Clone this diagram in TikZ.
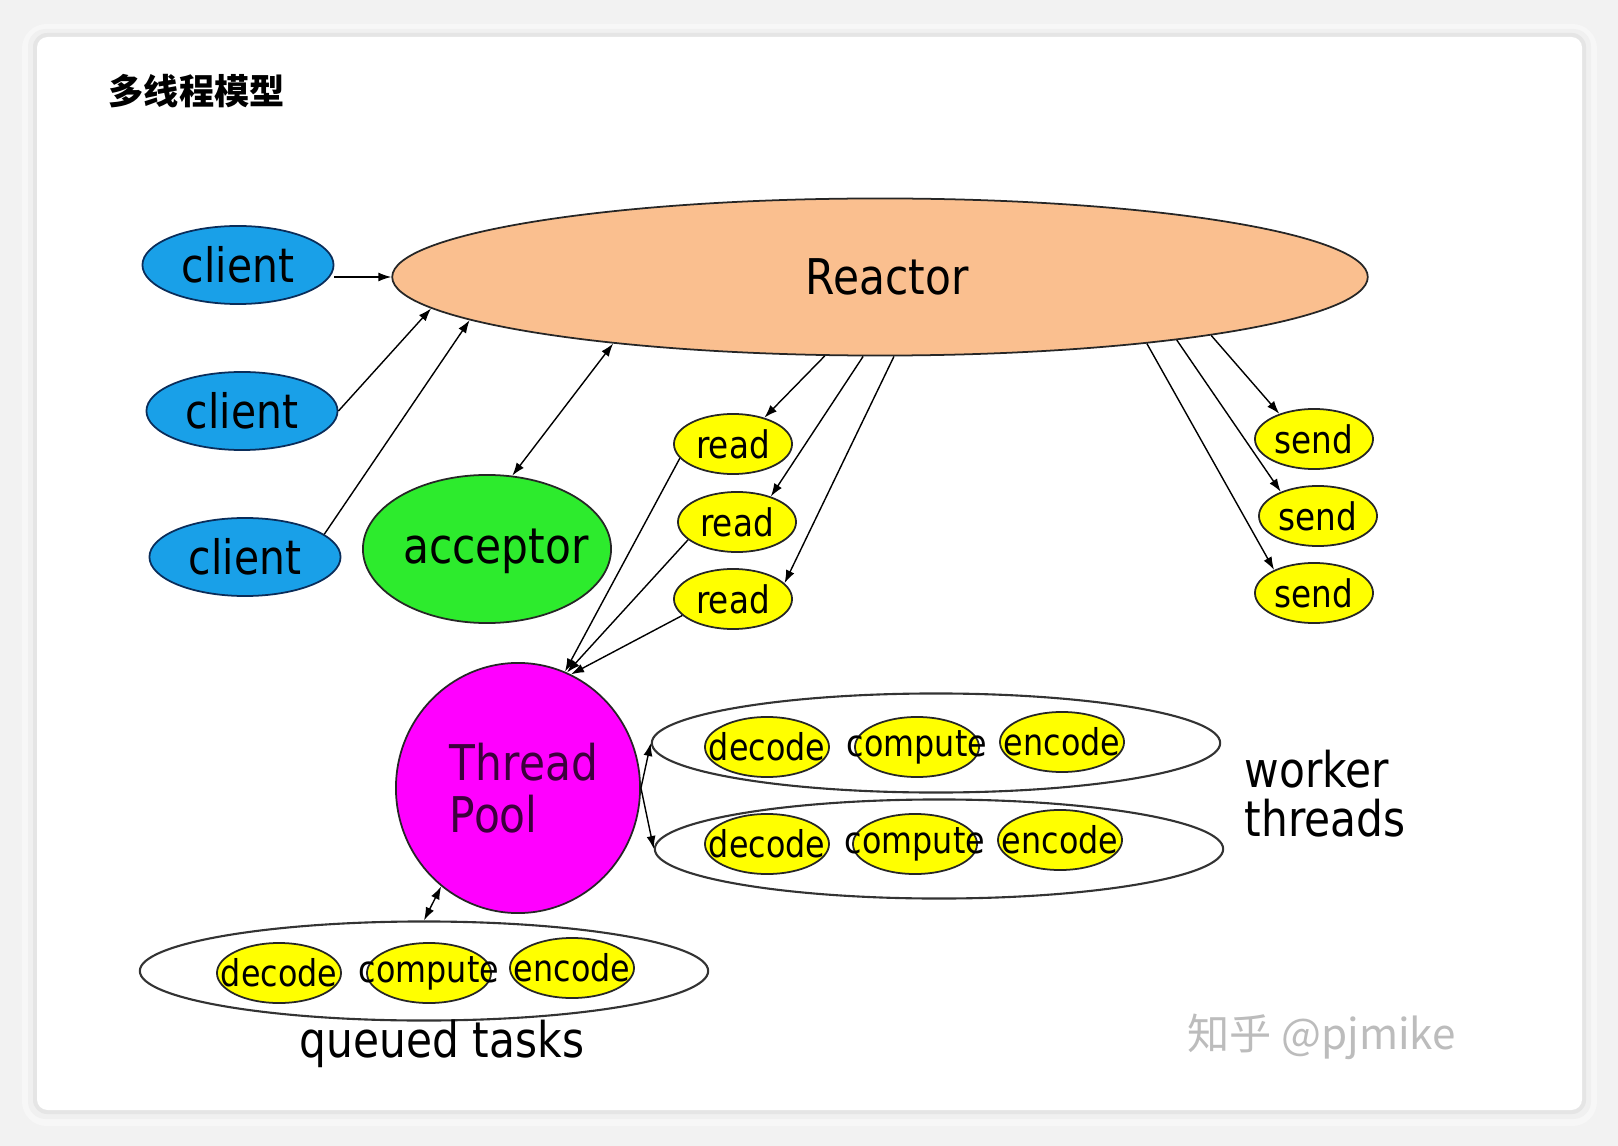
\documentclass[tikz,border=0pt]{standalone}
\usepackage{fontspec}
\usepackage{xcolor}
\usetikzlibrary{shapes.geometric,arrows.meta,calc}
\setmainfont{DejaVu Sans}[FakeStretch=0.86]
\newfontfamily\cjk{Noto Sans CJK SC}
\definecolor{reactorPeach}{RGB}{250,191,143}
\definecolor{clientBlue}{RGB}{25,160,232}
\definecolor{clientEdge}{RGB}{10,45,90}
\definecolor{acceptorGreen}{RGB}{45,235,45}
\definecolor{taskYellow}{RGB}{255,255,0}
\definecolor{poolMagenta}{RGB}{255,0,255}
\definecolor{poolText}{RGB}{60,0,60}
\definecolor{markGray}{RGB}{188,188,188}
\definecolor{pageGray}{RGB}{242,242,242}
\tikzset{
  blob/.style={ellipse,inner sep=0pt,line width=0.5pt,draw=black!85},
  clientnode/.style={blob,fill=clientBlue,draw=clientEdge,minimum width=1.91cm,minimum height=0.78cm,font=\fontsize{13.5}{15}\selectfont},
  iotask/.style={blob,fill=taskYellow,minimum width=1.18cm,minimum height=0.6cm,font=\fontsize{10.8}{12}\selectfont},
  worktask/.style={blob,fill=taskYellow,minimum width=1.24cm,minimum height=0.6cm,font=\fontsize{10.5}{12}\selectfont},
  threadbox/.style={ellipse,draw=black!80,line width=0.6pt,minimum width=5.68cm,minimum height=0.99cm},
  arr/.style={-{Latex[length=1.3mm,width=0.9mm]},line width=0.4pt},
  dbl/.style={{Latex[length=1.3mm,width=0.9mm]}-{Latex[length=1.3mm,width=0.9mm]},line width=0.4pt}
}
\begin{document}
\begin{tikzpicture}[x=0.01cm,y=-0.01cm]
\useasboundingbox (0,0) rectangle (1618,1146);
\fill[pageGray] (0,0) rectangle (1618,1146);
\fill[black!3,rounded corners=7pt] (22,24) rectangle (1597,1126);
\fill[black!6,rounded corners=5pt] (28,29) rectangle (1591,1119);
\fill[black!10,rounded corners=4pt] (33,33) rectangle (1586,1114);
\fill[white,rounded corners=3pt] (37,37) rectangle (1582,1110);
\node[font=\cjk\bfseries\fontsize{10}{12}\selectfont,anchor=west,inner sep=0pt] (title) at (108,91) {多线程模型};
\node[blob,fill=reactorPeach,minimum width=9.75cm,minimum height=1.57cm,font=\fontsize{14}{16}\selectfont] (reactor) at (880,277) {\makebox[0pt]{\kern0.14cm Reactor}};
\node[clientnode] (clientA) at (238,265) {client};
\node[clientnode] (clientB) at (242,411) {client};
\node[clientnode] (clientC) at (245,557) {client};
\node[blob,fill=acceptorGreen,minimum width=2.48cm,minimum height=1.48cm,font=\fontsize{14}{16}\selectfont] (acceptor) at (487,549) {\makebox[0pt]{\kern0.18cm\smash{\raisebox{-0.14cm}{acceptor}}}};
\node[iotask] (readA) at (733,444) {read};
\node[iotask] (readB) at (737,522) {read};
\node[iotask] (readC) at (733,599) {read};
\node[iotask] (sendA) at (1314,439) {send};
\node[iotask] (sendB) at (1318,516) {send};
\node[iotask] (sendC) at (1314,593) {send};
\node[blob,fill=poolMagenta,minimum width=2.44cm,minimum height=2.5cm,align=left,text=poolText,font=\fontsize{14}{14.7}\selectfont] (pool) at (518,788) {\hspace*{0.12cm}Thread\\\hspace*{0.12cm}Pool};
\node[threadbox] (workerA) at (936,743) {};
\node[threadbox] (workerB) at (939,849) {};
\node[threadbox] (queue) at (424,971) {};
\node[worktask] (decodeA) at (767,747) {\makebox[0pt]{decode}};
\node[worktask] (computeA) at (917,747) {\makebox[0pt]{compute}};
\node[worktask] (encodeA) at (1062,742) {\makebox[0pt]{encode}};
\node[worktask] (decodeB) at (767,844) {\makebox[0pt]{decode}};
\node[worktask] (computeB) at (915,844) {\makebox[0pt]{compute}};
\node[worktask] (encodeB) at (1060,840) {\makebox[0pt]{encode}};
\node[worktask] (decodeQ) at (279,973) {\makebox[0pt]{decode}};
\node[worktask] (computeQ) at (429,973) {\makebox[0pt]{compute}};
\node[worktask] (encodeQ) at (572,968) {\makebox[0pt]{encode}};
\node[anchor=west,align=left,inner sep=0pt,font=\fontsize{14}{14}\selectfont] (workerlabel) at (1244,794) {worker\\threads};
\node[font=\fontsize{14}{16}\selectfont] (queuelabel) at (442,1044) {queued tasks};
\node[font=\cjk\fontsize{12}{14}\selectfont,text=markGray,anchor=west,inner sep=0pt] (mark) at (1187,1037) {知乎 @pjmike};
\draw[arr] (clientA.east |- reactor.west) -- (reactor.west);
\draw[arr] (clientB.east) -- (reactor.184);
\draw[arr] (clientC.16) -- (reactor.186);
\draw[dbl] (acceptor.71) -- (reactor.194);
\draw[arr] (reactor.235) -- (readA.40);
\draw[arr] (reactor.258) -- (readB.37);
\draw[arr] (reactor.280) -- (readC.17);
\draw[arr] (readA.195) -- (pool.68);
\draw[arr] (readB.200) -- (pool.67);
\draw[arr] (readC.198) -- (pool.65);
\draw[arr] (reactor.350) -- (sendA.144);
\draw[arr] (reactor.348) -- (sendB.147);
\draw[arr] (reactor.346) -- (sendC.150);
\draw[arr] (pool.east) -- (workerA.west);
\draw[arr] (pool.east) -- (workerB.west);
\draw[dbl] (queue.north) -- (pool.232);
\end{tikzpicture}
\end{document}
